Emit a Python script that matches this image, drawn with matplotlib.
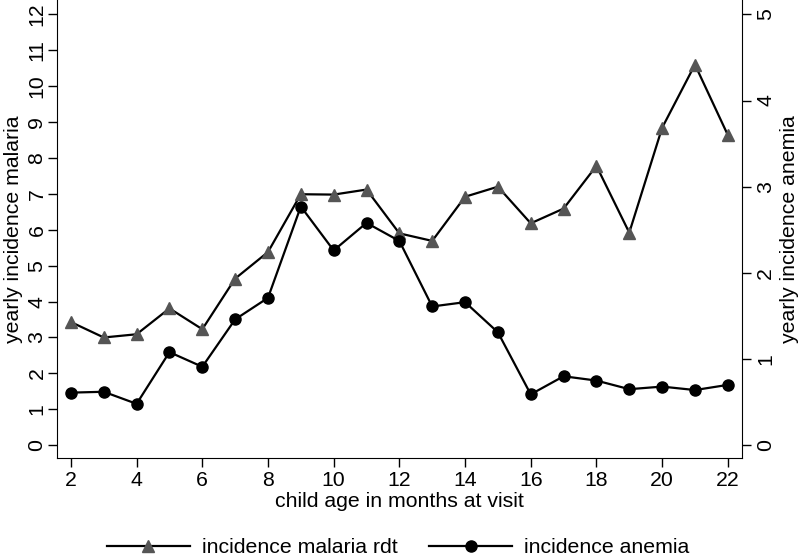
import numpy as np
import matplotlib
matplotlib.use('Agg')
import matplotlib.pyplot as plt

plt.rcParams['font.family'] = ['Liberation Sans', 'DejaVu Sans']

months = np.arange(2, 23)
malaria = [3.43, 3.00, 3.09, 3.81, 3.23, 4.64, 5.38, 6.99, 6.98, 7.12, 5.90,
           5.69, 6.92, 7.20, 6.18, 6.59, 7.78, 5.92, 8.84, 10.60, 8.64]
anemia = [0.61, 0.62, 0.48, 1.08, 0.91, 1.46, 1.71, 2.77, 2.26, 2.58, 2.37,
          1.61, 1.66, 1.31, 0.59, 0.80, 0.75, 0.65, 0.68, 0.64, 0.70]

fs = 15.3
fig = plt.figure(figsize=(8, 5.58), dpi=100)
ax = fig.add_axes([0.071, 0.179, 0.856, 0.821])
ax2 = ax.twinx()

l1, = ax.plot(months, malaria, color='black', lw=1.6, marker='^', ms=8.5,
              mfc='#555555', mec='#555555', zorder=3)
l2, = ax2.plot(months, anemia, color='black', lw=1.6, marker='o', ms=8,
               mfc='black', mec='black', zorder=3)

ax.set_xlim(1.57, 22.42)
ax.set_ylim(-0.36, 12.4)
ax2.set_ylim(-0.36 / 2.4, 12.4 / 2.4)
ax.set_xticks(range(2, 23, 2))
ax.set_yticks(range(0, 13))
ax2.set_yticks(range(0, 6))

for a in (ax, ax2):
    a.spines['top'].set_visible(False)
    a.tick_params(direction='out', length=6.5, width=1, labelsize=fs)
ax.tick_params(axis='x', pad=3)
ax.tick_params(axis='y', pad=1)
ax2.tick_params(axis='y', pad=4)
ax2.spines['left'].set_visible(False)
ax.spines['right'].set_visible(False)
ax2.spines['bottom'].set_visible(False)
for t in ax.get_yticklabels() + ax2.get_yticklabels():
    t.set_rotation(90)
    t.set_va('center')

ax.set_xlabel('child age in months at visit', fontsize=fs, labelpad=1)
ax.set_ylabel('yearly incidence malaria', fontsize=fs)
ax2.set_ylabel('yearly incidence anemia', fontsize=fs)
ax.yaxis.set_label_coords(-0.05, 0.5)
ax2.yaxis.set_label_coords(1.056, 0.5)

fig.legend([l1, l2], ['incidence malaria rdt', 'incidence anemia'],
           loc='center', bbox_to_anchor=(0.4975, 0.018), ncol=2,
           frameon=False, fontsize=fs, handlelength=3.9, handletextpad=0.55,
           columnspacing=1.5, borderpad=0, borderaxespad=0)

fig.savefig('out.png', dpi=100)
